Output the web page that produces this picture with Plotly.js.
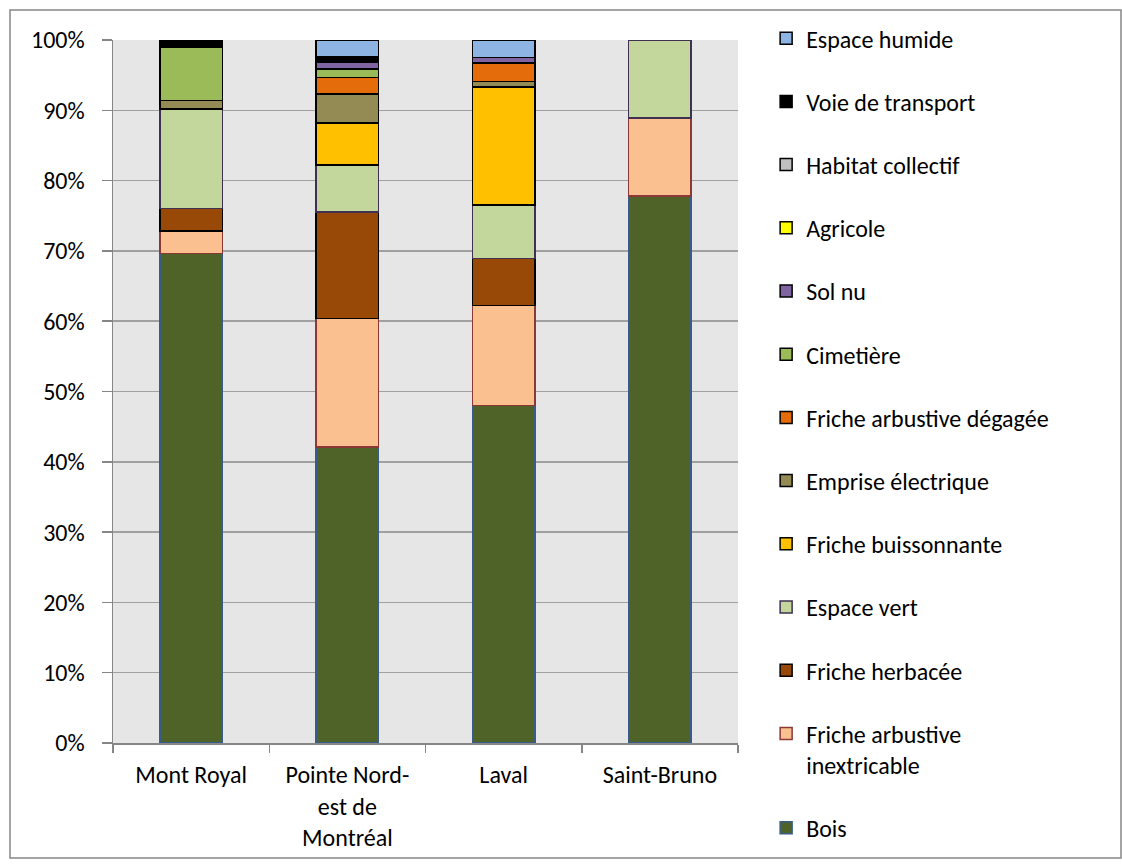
<!DOCTYPE html>
<html>
<head>
<meta charset="utf-8">
<script src="https://cdn.plot.ly/plotly-3.0.1.min.js"></script>
<style>html,body{margin:0;padding:0;background:#fff;}#chart{width:1122px;height:865px;}</style>
</head>
<body>
<div id="chart"></div>
<script>
// Categories (sites)
const sites = ["Mont Royal", "Pointe Nord-<br>est de<br>Montréal", "Laval", "Saint-Bruno"];

// Series (percent of area), bottom to top of stack
const bois              = [69.6, 42.1, 48.0, 77.8];
const fricheInextric    = [3.2, 18.3, 14.2, 11.1];
const fricheHerbacee    = [3.2, 15.1, 6.7, null];
const espaceVert        = [14.2, 6.7, 7.6, 11.1];
const fricheBuisson     = [null, 6.0, 16.8, null];
const empriseElec       = [1.2, 4.1, 0.8, null];
const fricheDegagee     = [null, 2.4, 2.6, null];
const cimetiere         = [7.6, 1.2, null, null];
const solNu             = [null, 0.9, 0.8, null];
const agricole          = [null, 0.2, null, null];
const habitatCollectif  = [null, 0.3, null, null];
const voieTransport     = [1.0, 0.3, null, null];
const espaceHumide      = [null, 2.4, 2.5, null];

const seriesNames = ["Bois", "Friche arbustive<br>inextricable", "Friche herbacée", "Espace vert",
  "Friche buissonnante", "Emprise électrique", "Friche arbustive dégagée", "Cimetière",
  "Sol nu", "Agricole", "Habitat collectif", "Voie de transport", "Espace humide"];
const seriesValues = [bois, fricheInextric, fricheHerbacee, espaceVert, fricheBuisson, empriseElec,
  fricheDegagee, cimetiere, solNu, agricole, habitatCollectif, voieTransport, espaceHumide];

const fills = ["#4F6228", "#FAC090", "#984807", "#C3D69B", "#FFC000", "#948A54", "#E46C0A",
  "#9BBB59", "#8064A2", "#FFFF00", "#BFBFBF", "#000000", "#8DB4E2"];
const borders = ["#385D8A", "#8C3836", "#000000", "#403152", "#000000", "#000000", "#000000",
  "#000000", "#000000", "#000000", "#000000", "#000000", "#000000"];

const traces = seriesNames.map((name, i) => ({
  type: "bar",
  name: name,
  x: sites,
  y: seriesValues[i],
  legendgroup: "g" + i,
  legendrank: 1000 - i,
  marker: {color: fills[i], line: {color: borders[i], width: 1.5}},
  hoverinfo: "name+y"
}));

const font = "Carlito, Calibri, Lato, sans-serif";

const layout = {
  width: 1122, height: 865,
  margin: {l: 113, r: 384, t: 40, b: 122},
  paper_bgcolor: "#ffffff",
  plot_bgcolor: "#E6E6E6",
  barmode: "stack",
  bargap: 0.6,
  font: {family: font, size: 24, color: "#000000"},
  showlegend: true,
  legend: {
    x: 1.045, xanchor: "left", y: 1.034, yanchor: "top",
    traceorder: "grouped",
    tracegroupgap: 29,
    valign: "top",
    maxheight: 900,
    bgcolor: "rgba(0,0,0,0)",
    font: {family: font, size: 24, color: "#000"},
    itemwidth: 30
  },
  xaxis: {
    type: "category",
    showgrid: false,
    showline: true, linecolor: "#868686", linewidth: 1.5,
    ticks: "outside", tickson: "boundaries", ticklen: 8, tickcolor: "#868686", tickwidth: 1.5,
    ticklabelstandoff: 10,
    tickfont: {family: font, size: 24, color: "#000"},
    fixedrange: true
  },
  yaxis: {
    range: [0, 100],
    dtick: 10,
    ticksuffix: "%",
    showgrid: true, gridcolor: "#A0A0A0", gridwidth: 1.5,
    showline: true, linecolor: "#868686", linewidth: 1.5,
    ticks: "outside", ticklen: 10, tickcolor: "#868686", tickwidth: 1.5,
    ticklabelstandoff: 12,
    tickfont: {family: font, size: 24, color: "#000"},
    zeroline: false,
    fixedrange: true
  },
  shapes: [{
    type: "rect", xref: "paper", yref: "paper",
    x0: -0.1648, x1: 1.6128, y0: -0.1636, y1: 1.0427,
    line: {color: "#868686", width: 1.5}, fillcolor: "rgba(0,0,0,0)", layer: "below"
  }]
};

Plotly.newPlot("chart", traces, layout, {displayModeBar: false, staticPlot: true});
</script>
</body>
</html>
